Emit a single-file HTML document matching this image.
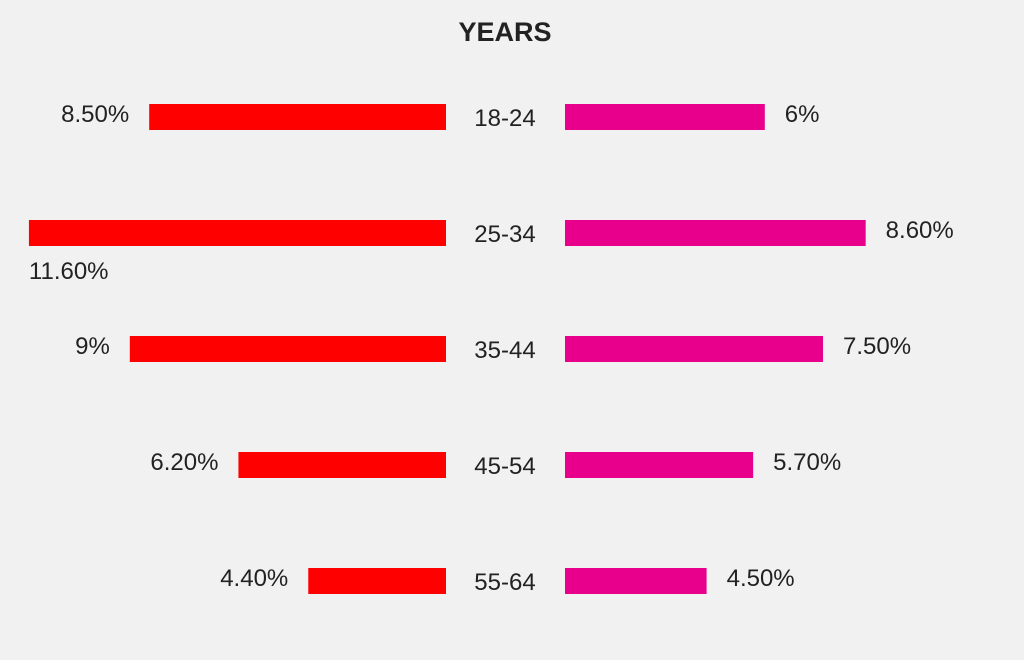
<!DOCTYPE html>
<html><head><meta charset="utf-8"><style>
html,body{margin:0;padding:0;background:#f1f1f1;}
svg{display:block;font-family:"Liberation Sans",sans-serif;}
</style></head><body>
<svg id="chart" width="1024" height="660">
<text x="505" y="41" text-anchor="middle" font-size="27" font-weight="bold" fill="#222">YEARS</text>
</svg>
<script>
const categories = ["18-24","25-34","35-44","45-54","55-64"];
const leftValues = [8.5, 11.6, 9, 6.2, 4.4];
const rightValues = [6, 8.6, 7.5, 5.7, 4.5];
const leftLabels = ["8.50%","11.60%","9%","6.20%","4.40%"];
const rightLabels = ["6%","8.60%","7.50%","5.70%","4.50%"];

const svg = document.getElementById('chart');
const NS = 'http://www.w3.org/2000/svg';
function len(v){ return Math.max(0, 38.8*v - 33); }
function rowY(i){ return 117 + i*116; }
const leftEdge = 446, rightEdge = 565, barH = 26;
function mk(tag, attrs){ const e=document.createElementNS(NS,tag); for(const k in attrs) e.setAttribute(k,attrs[k]); svg.appendChild(e); return e; }

categories.forEach((c,i)=>{
  const y = rowY(i);
  const lw = len(leftValues[i]), rw = len(rightValues[i]);
  const lb = mk('rect',{x:leftEdge-lw,y:y-barH/2,width:lw,height:barH,fill:'#ff0000'});
  
  
  const rb = mk('rect',{x:rightEdge,y:y-barH/2,width:rw,height:barH,fill:'#e8008c'});
  
  
  const ct = mk('text',{x:505,y:y+9,'text-anchor':'middle','font-size':24,fill:'#222'});
  ct.textContent = c;
  
  
  let lt;
  if (leftEdge-lw < 100) {
    lt = mk('text',{x:leftEdge-lw,y:y+46,'text-anchor':'start','font-size':24,fill:'#222'});
  } else {
    lt = mk('text',{x:leftEdge-lw-20,y:y+5,'text-anchor':'end','font-size':24,fill:'#222'});
  }
  lt.textContent = leftLabels[i];
  
  
  const rt = mk('text',{x:rightEdge+rw+20,y:y+5,'text-anchor':'start','font-size':24,fill:'#222'});
  rt.textContent = rightLabels[i];
  
  
});
</script>
</body></html>
